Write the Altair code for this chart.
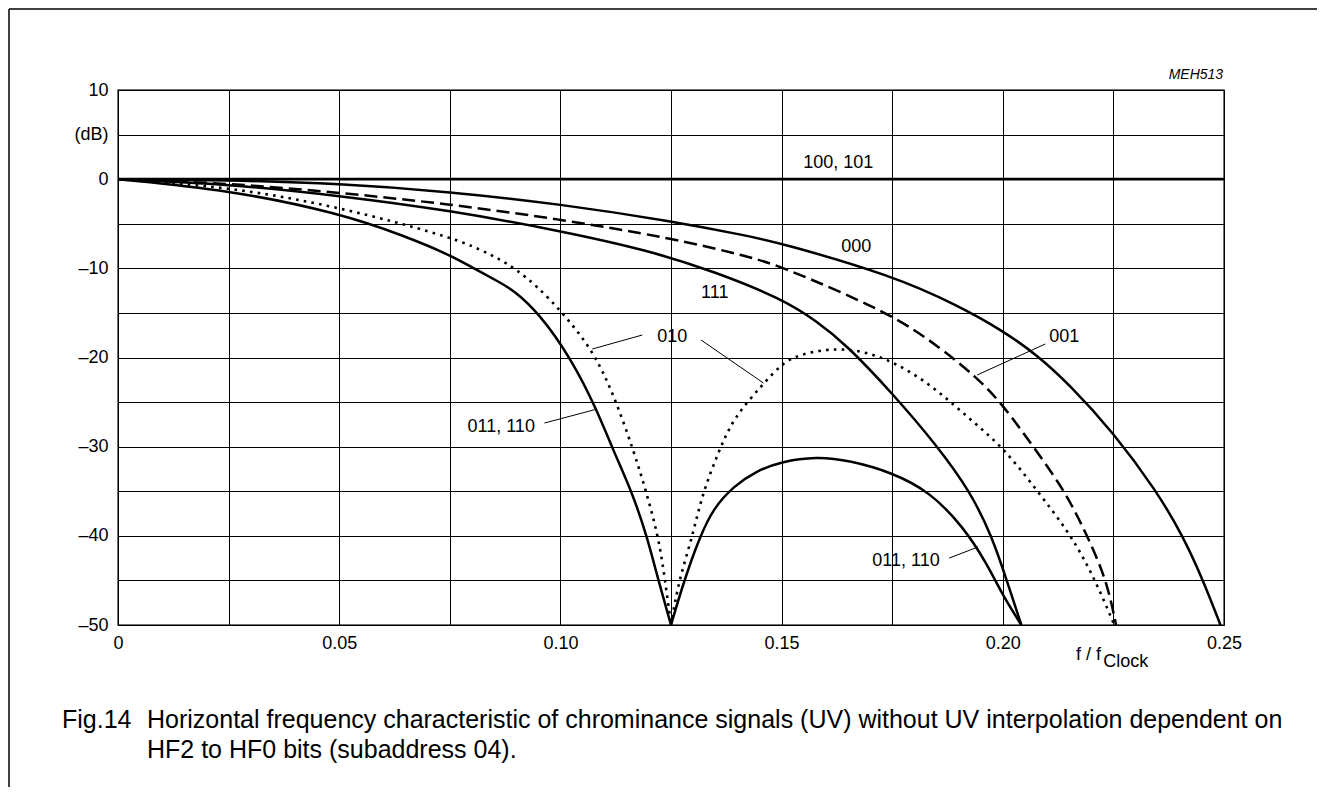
import altair as alt
import pandas as pd

# ---------------- data ----------------
f_100 = [0.0, 0.25]
db_100 = [0.0, 0.0]

f_000 = [0, 0.025, 0.05, 0.075, 0.1, 0.125, 0.1428, 0.15, 0.175, 0.19, 0.2, 0.2077,
         0.215, 0.225, 0.2348, 0.2407, 0.2453, 0.2492]
db_000 = [0, -0.1, -0.5, -1.4, -2.8, -4.7, -6.4, -7.2, -10.8, -14.2, -17.0, -19.7,
          -23.0, -28.4, -35.0, -40.0, -45.0, -50.0]

f_001 = [0, 0.025, 0.05, 0.075, 0.1, 0.125, 0.1428, 0.15, 0.175, 0.1858, 0.1941,
         0.2, 0.2069, 0.2141, 0.2191, 0.2235, 0.2256]
db_001 = [0, -0.45, -1.5, -2.8, -4.5, -6.6, -8.7, -9.8, -15.1, -18.9, -22.2,
          -25.3, -30.0, -35.0, -40.0, -45.0, -50.0]

f_111 = [0, 0.025, 0.05, 0.075, 0.1, 0.12, 0.135, 0.15, 0.1579, 0.1647, 0.175,
         0.185, 0.1926, 0.1975, 0.2009, 0.2042]
db_111 = [0, -0.55, -1.85, -3.5, -5.8, -8.0, -10.4, -13.4, -15.9, -18.6, -24.0,
          -29.8, -35.0, -40.0, -45.0, -50.0]

f_010a = [0, 0.025, 0.05, 0.075, 0.0819, 0.0864, 0.0902, 0.0947, 0.1, 0.1072, 0.112,
          0.1166, 0.1196, 0.1222, 0.1237, 0.125]
db_010a = [0, -0.85, -3.1, -6.45, -7.9, -9.0, -10.2, -12.0, -14.7, -19.06, -24.1,
           -30.5, -35.4, -40.2, -45.1, -50.0]

f_010b = [0.125, 0.1267, 0.1298, 0.132, 0.1358, 0.1392, 0.1458, 0.15, 0.1541, 0.1632,
          0.173, 0.1835, 0.1918, 0.2, 0.2077, 0.2145, 0.219, 0.2225, 0.2252]
db_010b = [-50.0, -45.1, -40.2, -35.4, -30.5, -26.7, -23.0, -20.7, -19.6, -18.8,
           -19.8, -22.9, -26.6, -30.0, -34.9, -39.3, -43.1, -46.8, -50.0]

f_011a = [0, 0.025, 0.05, 0.065, 0.075, 0.0797, 0.0864, 0.0895, 0.0951, 0.1023, 0.1083,
          0.112, 0.1162, 0.1196, 0.1222, 0.125]
db_011a = [0, -1.2, -3.8, -6.4, -8.5, -9.8, -11.6, -12.5, -15.0, -20.0, -25.9,
           -30.5, -35.1, -40.1, -45.1, -50.0]

f_011b = [0.125, 0.1279, 0.1316, 0.1346, 0.1392, 0.1444, 0.1497, 0.1579, 0.1654, 0.175,
          0.1835, 0.1911, 0.1964, 0.2001, 0.2042]
db_011b = [-50.0, -45.1, -40.0, -36.9, -34.4, -32.7, -31.7, -31.1, -31.55, -32.9,
           -35.05, -39.0, -43.1, -46.8, -50.0]

# curve labels
label_text = ["100, 101", "000", "001", "111", "010", "011, 110", "011, 110"]
label_f = [0.1549, 0.1635, 0.2105, 0.1318, 0.1219, 0.0790, 0.1705]
label_db = [1.25, -8.17, -18.26, -13.33, -18.26, -28.36, -43.38]

# leader lines (start near label -> end on curve)
lead_f1 = [0.2096, 0.1185, 0.1318, 0.0964, 0.1879]
lead_db1 = [-18.49, -17.48, -18.04, -27.35, -42.49]
lead_f2 = [0.1942, 0.1072, 0.1459, 0.1083, 0.1944]
lead_db2 = [-21.96, -19.05, -22.86, -25.78, -41.25]

x_grid = [i * 0.025 for i in range(11)]
y_grid = [-50 + 5 * i for i in range(13)]

caption_1 = "Horizontal frequency characteristic of chrominance signals (UV) without UV interpolation dependent on"
caption_2 = "HF2 to HF0 bits (subaddress 04)."
fig_no = "Fig.14"
code_id = "MEH513"

FONT = "Liberation Sans"


def seg_df(name, fs, dbs):
    return pd.DataFrame({"seg": name, "f": fs, "db": dbs})


flat = seg_df("100", f_100, db_100)
solid = pd.concat([
    seg_df("000", f_000, db_000),
    seg_df("111", f_111, db_111),
    seg_df("011a", f_011a, db_011a),
    seg_df("011b", f_011b, db_011b),
], ignore_index=True)
dashed = seg_df("001", f_001, db_001)
dotted = pd.concat([
    seg_df("010a", f_010a, db_010a),
    seg_df("010b", f_010b, db_010b),
], ignore_index=True)

xscale = alt.Scale(domain=[0, 0.25], nice=False, zero=False)
yscale = alt.Scale(domain=[-50, 10], nice=False, zero=False)

x_axis = alt.Axis(
    values=x_grid, grid=True, ticks=False, domain=False, title=None,
    labelExpr="datum.value == 0 ? '0' : (round(datum.value * 40) % 2 == 0 ? format(datum.value, '.2f') : '')",
    labelFont=FONT, labelFontSize=18, labelColor="black", labelPadding=9,
    gridColor="black", gridWidth=1, gridOpacity=1, labelFlush=False, labelOverlap=False,
)
y_axis = alt.Axis(
    values=y_grid, grid=True, ticks=False, domain=False, title=None,
    labelExpr="datum.value == 5 ? '(dB)' : (datum.value % 10 == 0 ? (datum.value < 0 ? '\u2013' + abs(datum.value) : '' + datum.value) : '')",
    labelFont=FONT, labelFontSize=18, labelColor="black", labelPadding=10,
    gridColor="black", gridWidth=1, gridOpacity=1, labelFlush=False, labelOverlap=False,
)

base_x = alt.X("f:Q", scale=xscale, axis=x_axis)
base_y = alt.Y("db:Q", scale=yscale, axis=y_axis)

flat_layer = alt.Chart(flat).mark_line(
    color="black", strokeWidth=2.8
).encode(x=base_x, y=base_y, detail="seg:N")

solid_layer = alt.Chart(solid).mark_line(
    color="black", strokeWidth=2.5, interpolate="basis"
).encode(x="f:Q", y="db:Q", detail="seg:N")

dashed_layer = alt.Chart(dashed).mark_line(
    color="black", strokeWidth=2.5, interpolate="basis", strokeDash=[13, 6]
).encode(x="f:Q", y="db:Q", detail="seg:N")

dotted_layer = alt.Chart(dotted).mark_line(
    color="black", strokeWidth=2.6, interpolate="basis", strokeDash=[2.6, 5.2]
).encode(x="f:Q", y="db:Q", detail="seg:N")

labels_df = pd.DataFrame({"t": label_text, "f": label_f, "db": label_db})
labels_layer = alt.Chart(labels_df).mark_text(
    align="left", baseline="alphabetic", font=FONT, fontSize=18, color="black"
).encode(x="f:Q", y="db:Q", text="t:N")

lead_df = pd.DataFrame({"f": lead_f1, "db": lead_db1, "f2": lead_f2, "db2": lead_db2})
lead_layer = alt.Chart(lead_df).mark_rule(color="black", strokeWidth=1).encode(
    x="f:Q", y="db:Q", x2="f2:Q", y2="db2:Q"
)

# axis title f / f_Clock and figure code
misc_df = pd.DataFrame({
    "t": ["f / f", "Clock", code_id],
    "f": [0.2222, 0.2227, 0.2498],
    "db": [-53.9, -54.7, 11.23],
    "al": ["right", "left", "right"],
    "st": ["normal", "normal", "italic"],
    "fs": [18, 18, 14],
})
misc_layers = []
for i in range(len(misc_df)):
    row = misc_df.iloc[[i]]
    misc_layers.append(
        alt.Chart(row).mark_text(
            align=row["al"].iloc[0], baseline="alphabetic", font=FONT,
            fontSize=int(row["fs"].iloc[0]), fontStyle=row["st"].iloc[0], color="black"
        ).encode(x="f:Q", y="db:Q", text="t:N")
    )

# caption below the chart (pixel offsets from the plot origin)
cap_df = pd.DataFrame({"k": [0]})
cap_fig = alt.Chart(cap_df).mark_text(
    align="left", baseline="alphabetic", font=FONT, fontSize=25, color="black", text=fig_no
).encode(x=alt.value(-56), y=alt.value(638))
cap_l1 = alt.Chart(cap_df).mark_text(
    align="left", baseline="alphabetic", font=FONT, fontSize=25, color="black", text=caption_1
).encode(x=alt.value(29), y=alt.value(638))
cap_l2 = alt.Chart(cap_df).mark_text(
    align="left", baseline="alphabetic", font=FONT, fontSize=25, color="black", text=caption_2
).encode(x=alt.value(29), y=alt.value(668))

# outer frame (top and left edges)
frame_top = alt.Chart(cap_df).mark_rule(color="black", strokeWidth=1.5).encode(
    x=alt.value(-109), x2=alt.value(1199), y=alt.value(-81)
)
frame_left = alt.Chart(cap_df).mark_rule(color="black", strokeWidth=1.5).encode(
    x=alt.value(-109), y=alt.value(-81), y2=alt.value(700)
)

chart = alt.layer(
    flat_layer, solid_layer, dashed_layer, dotted_layer, lead_layer, labels_layer,
    *misc_layers, cap_fig, cap_l1, cap_l2, frame_top, frame_left
).properties(
    width=1106, height=535,
    autosize=alt.AutoSizeParams(type="none"),
    padding={"left": 110, "top": 82, "right": 93, "bottom": 162},
).configure_view(
    stroke="#444", strokeWidth=1.5
)

chart.save("out.html", embed_options={"renderer": "svg", "actions": False})
